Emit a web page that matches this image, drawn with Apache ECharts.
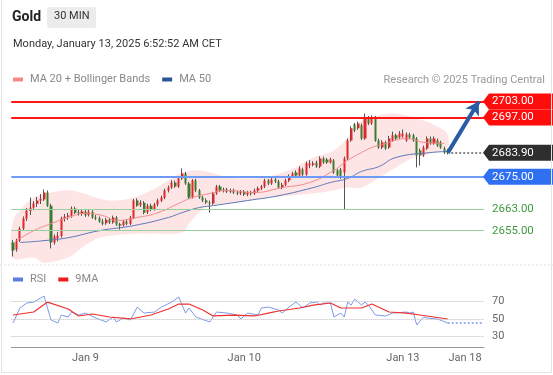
<!DOCTYPE html>
<html>
<head>
<meta charset="utf-8">
<script src="https://cdn.jsdelivr.net/npm/echarts@6/dist/echarts.min.js"></script>
<style>
html, body { margin: 0; padding: 0; background: #fff; }
#chart { width: 553px; height: 375px; }
.frame { position: absolute; left: 1px; top: -1px; width: 549px; height: 372px; border: 1px solid #e4e4e4; pointer-events: none; }
</style>
</head>
<body>
<div id="chart"></div>
<div class="frame"></div>
<script>
// 30 min candles, [open, close, low, high]
var candles = [
    [2650.6, 2647.6, 2645.4, 2651.5], [2648.0, 2651.3, 2647.2, 2652.0], [2651.3, 2655.8, 2650.8, 2656.5], [2655.8, 2659.5, 2655.2, 2660.3],
    [2659.5, 2662.5, 2658.6, 2663.4], [2662.3, 2663.6, 2660.8, 2667.3], [2663.5, 2665.1, 2662.6, 2666.0], [2665.0, 2666.2, 2663.8, 2667.5],
    [2666.1, 2666.9, 2664.9, 2668.6], [2666.6, 2669.2, 2666.0, 2670.3], [2669.2, 2664.3, 2663.8, 2669.9], [2664.3, 2650.6, 2648.4, 2665.0],
    [2650.6, 2652.8, 2649.8, 2653.6], [2652.0, 2653.2, 2651.0, 2654.5], [2653.0, 2659.5, 2652.4, 2660.2], [2659.3, 2660.3, 2658.4, 2661.2],
    [2660.2, 2660.6, 2659.0, 2661.6], [2660.5, 2663.2, 2659.8, 2664.0], [2663.2, 2661.7, 2661.2, 2663.9], [2661.8, 2661.4, 2660.6, 2662.8],
    [2661.2, 2662.1, 2660.5, 2663.0], [2662.1, 2660.6, 2660.1, 2662.9], [2660.8, 2662.1, 2660.3, 2663.0], [2662.0, 2659.9, 2659.4, 2662.6],
    [2660.0, 2659.5, 2658.9, 2660.8], [2659.6, 2658.4, 2657.9, 2660.3], [2658.4, 2657.6, 2657.0, 2659.4], [2657.8, 2659.1, 2657.2, 2659.7],
    [2659.1, 2658.0, 2657.5, 2659.8], [2658.0, 2659.9, 2657.6, 2660.6], [2659.9, 2657.3, 2656.8, 2660.4], [2657.4, 2656.9, 2655.4, 2658.0],
    [2657.0, 2658.4, 2656.5, 2659.0], [2658.4, 2657.6, 2657.0, 2659.2], [2657.6, 2659.9, 2657.1, 2660.5], [2659.8, 2666.2, 2659.3, 2666.8],
    [2666.2, 2664.3, 2663.9, 2667.0], [2664.4, 2665.5, 2663.8, 2666.3], [2665.4, 2661.7, 2661.1, 2666.0], [2661.8, 2664.3, 2661.2, 2665.0],
    [2664.3, 2662.9, 2662.2, 2665.0], [2663.0, 2664.7, 2662.5, 2665.3], [2664.7, 2666.2, 2664.0, 2666.9], [2666.1, 2667.3, 2665.6, 2668.0],
    [2667.2, 2669.9, 2666.7, 2670.6], [2669.9, 2671.0, 2669.2, 2671.8], [2671.0, 2672.9, 2670.5, 2673.8], [2672.9, 2671.4, 2670.9, 2673.6],
    [2671.4, 2674.4, 2670.9, 2675.2], [2674.4, 2676.2, 2673.8, 2678.1], [2676.2, 2672.5, 2672.0, 2676.8], [2672.5, 2667.3, 2666.8, 2673.1],
    [2667.3, 2673.6, 2666.9, 2674.2], [2673.6, 2669.9, 2669.3, 2674.3], [2669.9, 2667.3, 2666.8, 2670.5], [2667.3, 2666.2, 2665.6, 2668.0],
    [2666.2, 2665.5, 2664.9, 2667.0], [2665.5, 2665.1, 2661.7, 2666.2], [2665.1, 2668.8, 2664.6, 2669.4], [2668.8, 2671.4, 2668.3, 2672.0],
    [2671.4, 2669.9, 2669.4, 2672.0], [2669.9, 2670.3, 2669.2, 2671.0], [2670.3, 2669.5, 2669.0, 2670.9], [2669.5, 2669.9, 2668.9, 2670.6],
    [2669.9, 2669.2, 2668.6, 2670.6], [2669.2, 2668.8, 2668.2, 2669.9], [2668.8, 2669.5, 2668.2, 2670.1], [2669.5, 2668.4, 2667.9, 2670.1],
    [2668.4, 2669.2, 2667.8, 2669.8], [2669.2, 2668.8, 2668.1, 2669.8], [2668.8, 2669.9, 2668.3, 2670.6], [2669.9, 2670.7, 2669.3, 2671.4],
    [2670.7, 2671.4, 2670.1, 2672.0], [2671.4, 2673.6, 2670.8, 2674.3], [2673.6, 2672.5, 2671.9, 2674.2], [2672.5, 2674.0, 2672.0, 2674.8],
    [2674.0, 2673.3, 2672.7, 2674.9], [2673.3, 2671.0, 2670.5, 2673.9], [2671.0, 2672.1, 2670.4, 2672.8], [2672.1, 2673.6, 2671.6, 2674.3],
    [2673.6, 2675.1, 2673.0, 2675.9], [2675.1, 2676.2, 2674.6, 2676.9], [2676.6, 2675.5, 2675.0, 2677.4], [2675.5, 2678.1, 2675.0, 2678.9],
    [2677.7, 2675.9, 2675.3, 2678.4], [2675.9, 2680.0, 2675.4, 2680.7], [2679.2, 2680.0, 2678.2, 2681.2], [2679.5, 2680.0, 2678.9, 2680.8],
    [2680.3, 2678.8, 2678.3, 2681.0], [2678.8, 2681.8, 2678.2, 2682.6], [2681.8, 2680.3, 2679.8, 2682.5], [2681.4, 2680.3, 2679.8, 2682.0],
    [2680.3, 2681.4, 2679.9, 2682.1], [2681.1, 2676.6, 2676.1, 2681.6], [2677.4, 2675.5, 2675.0, 2678.0], [2677.7, 2674.7, 2674.2, 2678.3],
    [2676.6, 2681.8, 2662.9, 2682.5], [2681.8, 2688.5, 2681.2, 2689.2], [2688.5, 2693.0, 2688.0, 2693.8], [2694.5, 2692.2, 2691.6, 2695.0],
    [2693.0, 2694.8, 2692.5, 2695.5], [2694.1, 2689.2, 2688.6, 2694.8], [2689.2, 2696.7, 2688.7, 2698.5], [2696.7, 2694.8, 2694.2, 2697.6],
    [2694.8, 2697.0, 2694.3, 2697.8], [2697.0, 2688.5, 2688.0, 2697.6], [2688.5, 2685.9, 2685.4, 2689.2], [2685.9, 2687.8, 2685.3, 2688.6],
    [2687.8, 2685.5, 2685.0, 2688.4], [2685.9, 2689.2, 2685.4, 2690.2], [2688.5, 2690.4, 2688.0, 2691.8], [2690.4, 2689.2, 2688.7, 2691.0],
    [2689.6, 2691.1, 2689.1, 2692.0], [2690.0, 2691.1, 2689.5, 2692.6], [2688.5, 2690.7, 2688.0, 2691.5], [2690.7, 2689.6, 2689.0, 2691.4],
    [2690.4, 2688.5, 2688.0, 2691.0], [2689.2, 2682.9, 2678.5, 2689.8], [2684.8, 2682.9, 2679.2, 2685.5], [2682.9, 2685.9, 2682.4, 2686.6],
    [2685.5, 2689.2, 2685.0, 2690.0], [2689.2, 2687.4, 2686.9, 2690.0], [2687.4, 2689.2, 2686.9, 2690.0], [2688.5, 2686.6, 2686.1, 2689.2],
    [2687.8, 2685.9, 2685.4, 2688.4], [2685.5, 2684.0, 2683.5, 2686.2], [2684.8, 2683.9, 2683.3, 2685.4]
];

// [candle index, value]
var ma20 = [[1, 2651.3], [6, 2655.0], [11, 2657.6], [16, 2659.9], [21, 2661.4], [26, 2660.6], [30, 2658.8], [36, 2659.9],
    [42, 2661.7], [48, 2665.1], [52, 2667.3], [57, 2668.8], [62, 2669.9], [70, 2669.2], [78, 2671.0], [86, 2672.9],
    [93, 2677.4], [97, 2681.1], [101, 2684.0], [104, 2685.9], [108, 2687.4], [114, 2689.2], [119, 2687.8], [125, 2687.4]];
var ma50 = [[2, 2650.6], [9, 2651.3], [16, 2652.4], [25, 2655.0], [35, 2656.9], [45, 2659.9], [49, 2661.7], [54, 2663.6],
    [58, 2664.3], [68, 2666.2], [77, 2668.0], [87, 2671.0], [92, 2672.9], [97, 2674.4], [101, 2677.0], [106, 2678.8],
    [111, 2682.2], [121, 2684.0], [126, 2684.4]];
var bbUpper = [[0, 2658.5], [3, 2664.0], [6, 2667.3], [11, 2669.2], [17, 2669.9], [26, 2666.6], [30, 2666.2], [35, 2667.3],
    [40, 2669.9], [45, 2673.6], [49, 2676.6], [54, 2677.4], [63, 2674.7], [72, 2674.7], [80, 2677.4], [87, 2682.2],
    [93, 2684.8], [97, 2689.6], [101, 2695.9], [106, 2697.8], [111, 2698.5], [119, 2695.9], [125, 2692.2], [126, 2690.4]];
var bbLower = [[0, 2645.0], [6, 2645.0], [9, 2643.1], [16, 2645.0], [20, 2648.7], [25, 2652.4], [35, 2653.9], [40, 2653.9],
    [49, 2654.3], [51, 2657.6], [56, 2663.6], [65, 2665.5], [75, 2667.3], [87, 2668.8], [93, 2669.9], [97, 2671.0],
    [101, 2671.0], [106, 2674.7], [111, 2678.5], [116, 2682.2], [121, 2683.7], [126, 2685.9]];

var rsi = [[0, 45.1], [2, 62.6], [4, 68.4], [6, 69.5], [8, 74.2], [9, 76.5], [11, 48.6], [13, 45.1], [14, 54.4], [16, 52.1],
    [17, 57.9], [19, 54.4], [21, 56.7], [24, 50.9], [27, 46.3], [29, 52.1], [30, 46.3], [32, 50.9], [34, 48.6], [36, 63.7],
    [38, 56.7], [41, 57.9], [43, 63.7], [46, 69.5], [48, 75.4], [50, 56.7], [51, 62.6], [53, 52.1], [57, 46.3], [59, 57.9],
    [62, 56.7], [65, 54.4], [66, 49.8], [68, 56.7], [71, 54.4], [72, 62.6], [74, 63.7], [77, 60.2], [78, 56.7], [80, 63.7],
    [82, 69.5], [84, 62.6], [86, 68.4], [88, 69.5], [89, 66.0], [90, 68.4], [92, 68.4], [93, 52.1], [95, 56.7], [96, 52.1],
    [97, 69.5], [98, 66.0], [99, 73.0], [101, 66.0], [102, 69.5], [103, 66.0], [105, 54.4], [108, 53.3], [110, 56.7],
    [114, 57.9], [115, 56.7], [116, 57.9], [117, 42.8], [119, 52.1], [120, 50.9], [123, 49.8], [126, 45.1]];
var rsiMa = [[0, 54.4], [6, 57.9], [10, 69.5], [16, 61.4], [19, 53.3], [23, 55.6], [28, 52.1], [34, 49.8], [40, 54.4],
    [45, 61.4], [48, 67.2], [51, 67.2], [55, 60.2], [58, 53.3], [64, 54.4], [70, 53.3], [74, 56.7], [77, 59.1], [83, 62.6],
    [87, 66.0], [92, 68.4], [95, 62.6], [101, 62.6], [104, 67.2], [109, 57.9], [114, 56.7], [118, 54.4], [122, 52.1], [126, 49.8]];
var rsiLevels = [70, 50, 30];

var resistance = [2703, 2697];
var lastPrice = 2683.9;
var pivot = 2675;
var support = [2663, 2655];
var target = [135, 2703];

var slots = 137;
var tickLabels = {21: 'Jan 9', 67: 'Jan 10', 113: 'Jan 13', 131: 'Jan 18'};

var categories = [];
for (var i = 0; i < slots; i++) {
    categories.push(String(i));
}
var last = candles.length - 1;

var levelValues = [resistance[0], resistance[1], lastPrice, pivot, support[0], support[1]];
var tagStyles = [
    {bg: '#ff0d0d', fg: '#fff'}, {bg: '#ff0d0d', fg: '#fff'}, {bg: '#2e2e2e', fg: '#fff'},
    {bg: '#2f6ff2', fg: '#fff'}, {bg: null, fg: '#3d9b3d'}, {bg: null, fg: '#3d9b3d'}
];

var font = 'Roboto, "Open Sans", sans-serif';
var chart = echarts.init(document.getElementById('chart'));

chart.setOption({
    animation: false,
    textStyle: {fontFamily: font},
    grid: [
        {left: 11.3, right: 69, top: 92, height: 171},
        {left: 11.3, right: 69, top: 290.5, height: 56.6}
    ],
    legend: [
        {
            left: 8, top: 69, icon: 'rect', itemWidth: 10, itemHeight: 4, itemGap: 12,
            textStyle: {color: '#888', fontSize: 11, padding: [0, 0, 0, 2]},
            data: [
                {name: 'MA 20 + Bollinger Bands', itemStyle: {color: '#f28a8a'}},
                {name: 'MA 50', itemStyle: {color: '#2b5597'}}
            ]
        },
        {
            left: 8, top: 269, icon: 'rect', itemWidth: 10, itemHeight: 4, itemGap: 12,
            textStyle: {color: '#888', fontSize: 11, padding: [0, 0, 0, 2]},
            data: [
                {name: 'RSI', itemStyle: {color: '#5b7fdc'}},
                {name: '9MA', itemStyle: {color: '#ee1c1c'}}
            ]
        }
    ],
    graphic: [
        {type: 'text', left: 12, top: 10, style: {text: 'Gold', font: 'bold 14px ' + font, fill: '#222'}},
        {type: 'rect', left: 47, top: 7, shape: {width: 49, height: 21, r: 2}, style: {fill: '#ececec'}},
        {type: 'text', left: 54, top: 11, style: {text: '30 MIN', font: '11px ' + font, fill: '#333'}},
        {type: 'text', left: 13, top: 39, style: {text: 'Monday, January 13, 2025 6:52:52 AM CET', font: '11px ' + font, fill: '#333'}},
        {type: 'text', right: 8, top: 75, style: {text: 'Research \u00a9 2025 Trading Central', font: '11px ' + font, fill: '#9a9a9a'}},
        {type: 'line', shape: {x1: 0, y1: 265, x2: 553, y2: 265}, style: {stroke: '#e0e0e0', lineDash: [2, 2]}}
    ],
    xAxis: [
        {type: 'category', gridIndex: 0, data: categories, show: false},
        {
            type: 'category', gridIndex: 1, data: categories,
            axisLine: {lineStyle: {color: '#999'}},
            axisTick: {
                length: 5, lineStyle: {color: '#999'},
                interval: function (idx) { return idx === 0 || idx === slots - 1; }
            },
            axisLabel: {
                color: '#666', fontSize: 11, margin: 6,
                interval: function (idx) { return tickLabels[idx] !== undefined; },
                formatter: function (val, idx) { return tickLabels[idx] || ''; }
            }
        }
    ],
    yAxis: [
        {type: 'value', gridIndex: 0, min: 2643, max: 2706.5, show: false, splitLine: {show: false}},
        {type: 'value', gridIndex: 1, min: 17, max: 83, show: false, splitLine: {show: false}}
    ],
    series: [
        {
            // bollinger band
            type: 'custom', name: 'MA 20 + Bollinger Bands', xAxisIndex: 0, yAxisIndex: 0, z: 1, silent: true,
            data: [[0, bbUpper[0][1]]],
            renderItem: function (params, api) {
                var top = bbUpper.map(function (p) { return api.coord(p); });
                var bottom = bbLower.map(function (p) { return api.coord(p); }).reverse();
                return {
                    type: 'polygon',
                    shape: {points: top.concat(bottom), smooth: 0.35},
                    style: {fill: 'rgba(245,70,70,0.14)'}
                };
            }
        },
        {
            type: 'line', name: 'MA 20 + Bollinger Bands', xAxisIndex: 0, yAxisIndex: 0, z: 4,
            data: ma20, smooth: true, showSymbol: false, lineStyle: {color: '#f08888', width: 1}, itemStyle: {color: '#f28a8a'}
        },
        {
            type: 'line', name: 'MA 50', xAxisIndex: 0, yAxisIndex: 0, z: 4,
            data: ma50, smooth: true, showSymbol: false, lineStyle: {color: '#5a78b8', width: 1}, itemStyle: {color: '#2b5597'}
        },
        {
            // wicks
            type: 'candlestick', name: 'wick', xAxisIndex: 0, yAxisIndex: 0, z: 3, barWidth: 1,
            data: candles,
            itemStyle: {color: '#555', color0: '#555', borderColor: '#555', borderColor0: '#555', borderWidth: 1}
        },
        {
            type: 'candlestick', name: 'Gold', xAxisIndex: 0, yAxisIndex: 0, z: 3, barWidth: 2.6,
            data: candles,
            itemStyle: {color: '#e3262b', color0: '#3a7d2f', borderColor: '#e3262b', borderColor0: '#3a7d2f', borderWidth: 0},
            markLine: {
                silent: true, symbol: 'none', z: 5,
                label: {show: false},
                data: [
                    {yAxis: resistance[0], lineStyle: {color: '#ff1414', width: 2, type: 'solid'}},
                    {yAxis: resistance[1], lineStyle: {color: '#ff1414', width: 2, type: 'solid'}},
                    {yAxis: pivot, lineStyle: {color: '#6d9bf5', width: 2, type: 'solid'}},
                    {yAxis: support[0], lineStyle: {color: '#9ccf9c', width: 1, type: 'solid'}},
                    {yAxis: support[1], lineStyle: {color: '#9ccf9c', width: 1, type: 'solid'}},
                    [
                        {coord: [last + 1, lastPrice], symbol: 'none'},
                        {coord: [slots - 1, lastPrice], symbol: 'none', lineStyle: {color: '#888', width: 2, type: 'dotted'}}
                    ],
                    [
                        {coord: [last, lastPrice], symbol: 'none'},
                        {coord: target, symbol: 'arrow', symbolSize: [12, 13], lineStyle: {color: '#2a5ba6', width: 4, type: 'solid'}}
                    ]
                ]
            }
        },
        {
            // price tags
            type: 'custom', name: 'tags', xAxisIndex: 0, yAxisIndex: 0, z: 6, clip: false, silent: true,
            data: levelValues.map(function (v) { return [0, v]; }),
            renderItem: function (params, api) {
                var k = params.dataIndex;
                var y = api.coord([0, api.value(1)])[1];
                var x0 = params.coordSys.x + params.coordSys.width;
                var st = tagStyles[k];
                var text = {
                    type: 'text', x: x0 + 8, y: y,
                    style: {text: levelValues[k].toFixed(2), fill: st.fg, font: '11.5px ' + font, align: 'left', verticalAlign: 'middle'}
                };
                if (!st.bg) {
                    return text;
                }
                return {
                    type: 'group',
                    children: [
                        {type: 'polygon', shape: {points: [[x0 - 1, y], [x0 + 5, y - 8], [553, y - 8], [553, y + 8], [x0 + 5, y + 8]]}, style: {fill: st.bg}},
                        text
                    ]
                };
            }
        },
        {
            type: 'line', name: 'RSI', xAxisIndex: 1, yAxisIndex: 1, z: 3,
            data: rsi, showSymbol: false, lineStyle: {color: '#7d9aea', width: 1}, itemStyle: {color: '#5b7fdc'},
            markLine: {
                silent: true, symbol: 'none',
                data: rsiLevels.map(function (v) {
                    return {yAxis: v, lineStyle: {color: '#bdbdbd', width: 1, type: 'dotted'},
                        label: {position: 'end', distance: 8, color: '#666', fontSize: 11, formatter: String(v)}};
                }).concat([[
                    {coord: [last, rsi[rsi.length - 1][1]], symbol: 'none'},
                    {coord: [slots - 1, rsi[rsi.length - 1][1]], symbol: 'none',
                        lineStyle: {color: '#9db4f0', width: 2, type: 'dotted'}, label: {show: false}}
                ]])
            }
        },
        {
            type: 'line', name: '9MA', xAxisIndex: 1, yAxisIndex: 1, z: 4,
            data: rsiMa, showSymbol: false, lineStyle: {color: '#f03030', width: 1.2}, itemStyle: {color: '#ee1c1c'}
        }
    ]
});
</script>
</body>
</html>
